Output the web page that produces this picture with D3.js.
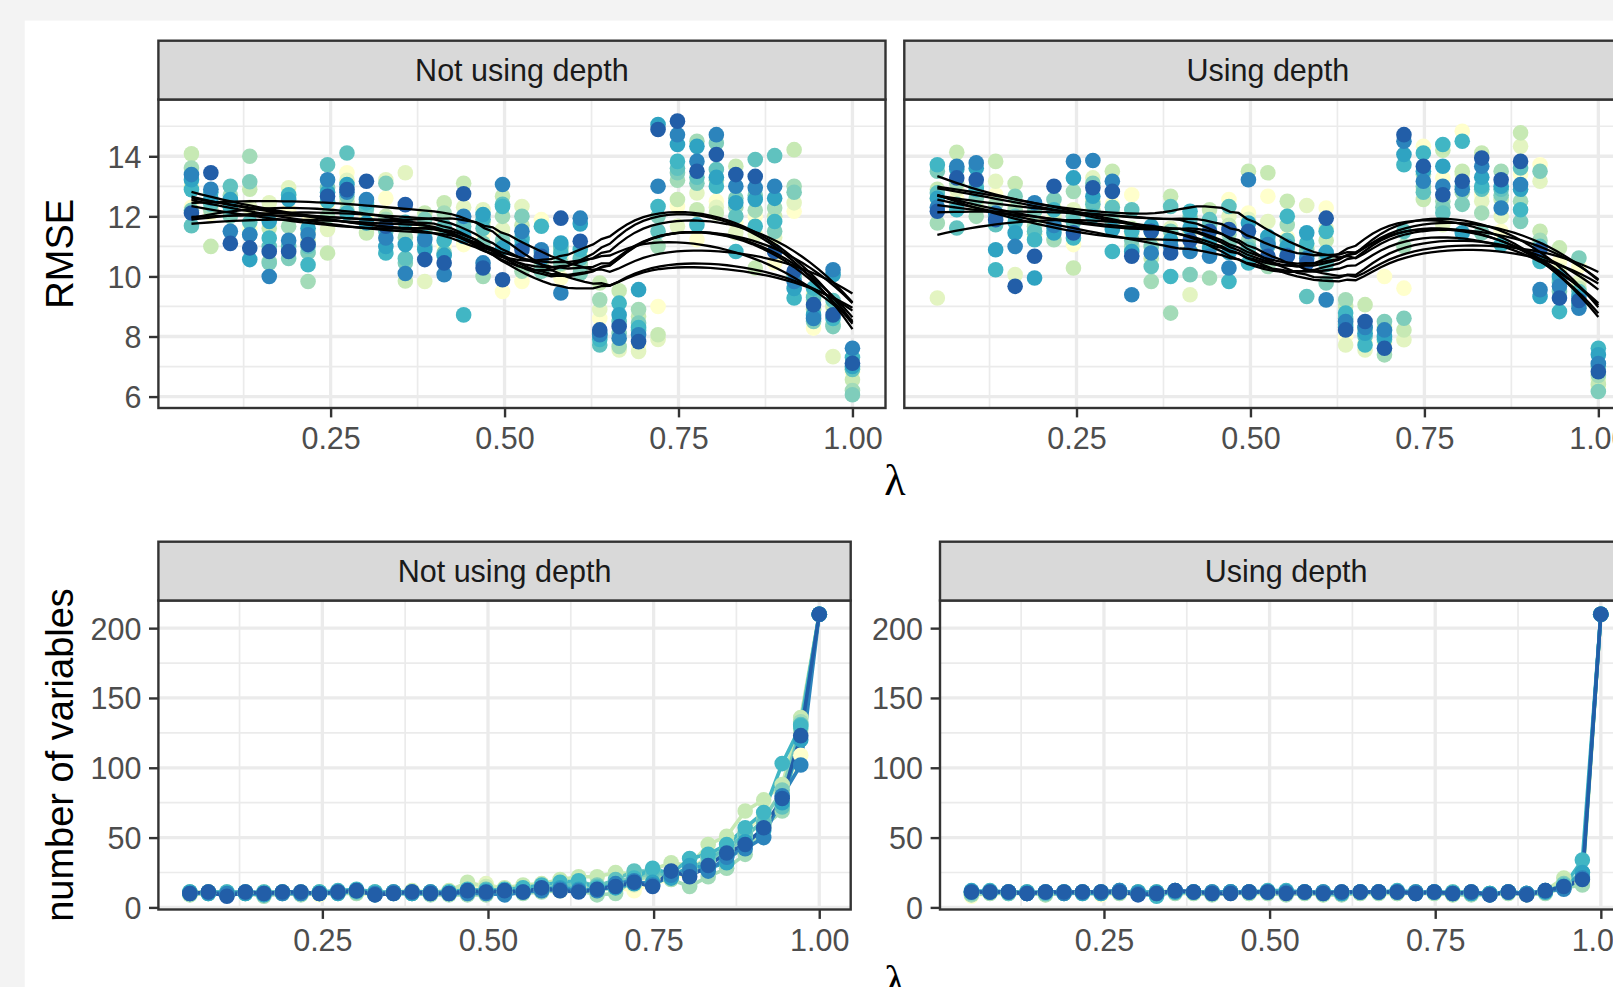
<!DOCTYPE html>
<html>
<head>
<meta charset="utf-8">
<script src="https://cdn.jsdelivr.net/npm/d3@7"></script>
<style>
  body { margin: 0; background: #f3f3f3; }
  svg { display: block; }
</style>
</head>
<body>
<svg id="chart"></svg>
<script>
// lambda grid (35 steps from 0.05 to 1)
var lambda = [0.05, 0.0779, 0.1059, 0.1338, 0.1618, 0.1897, 0.2176, 0.2456, 0.2735, 0.3015,
  0.3294, 0.3574, 0.3853, 0.4132, 0.4412, 0.4691, 0.4971, 0.525, 0.5529, 0.5809,
  0.6088, 0.6368, 0.6647, 0.6926, 0.7206, 0.7485, 0.7765, 0.8044, 0.8324, 0.8603,
  0.8882, 0.9162, 0.9441, 0.9721, 1.0];

// one row per lambda, one value per repeat (10 repeats)
var rmseNoDepth = [
  [12.3, 13.0, 14.08, 13.61, 12.2, 11.69, 12.89, 13.22, 13.39, 12.11],
  [12.1, 12.3, 11.0, 12.2, 12.5, 12.4, 12.8, 12.6, 12.9, 13.45],
  [12.2, 12.4, 12.5, 12.7, 12.0, 13.0, 12.3, 12.56, 11.5, 11.1],
  [11.6, 12.3, 12.9, 14.0, 13.15, 11.8, 11.4, 10.56, 11.39, 10.95],
  [12.0, 12.45, 11.6, 10.5, 10.45, 11.0, 11.28, 11.83, 10.0, 10.83],
  [12.2, 12.95, 12.7, 11.67, 10.6, 11.0, 12.72, 12.56, 11.2, 10.83],
  [11.8, 11.5, 11.2, 9.83, 10.8, 11.0, 10.39, 11.6, 11.39, 11.06],
  [12.4, 11.56, 10.78, 12.0, 12.95, 13.72, 12.5, 12.8, 13.22, 12.67],
  [13.45, 13.2, 12.5, 12.2, 12.67, 14.11, 12.11, 13.06, 12.8, 12.89],
  [12.0, 11.8, 11.45, 12.4, 12.22, 12.3, 12.45, 11.78, 12.56, 13.17],
  [12.6, 13.22, 12.0, 11.9, 13.1, 11.5, 10.78, 11.0, 11.28, 11.67],
  [11.6, 13.45, 9.85, 11.3, 10.45, 10.6, 11.8, 11.06, 10.1, 12.39],
  [11.7, 9.83, 12.11, 11.5, 11.9, 11.0, 11.3, 10.9, 11.22, 10.56],
  [11.0, 11.5, 12.45, 12.11, 10.78, 11.67, 11.2, 10.7, 10.06, 10.45],
  [11.06, 12.3, 13.1, 11.8, 11.5, 11.67, 8.72, 11.33, 12.0, 12.75],
  [11.39, 12.22, 11.8, 10.0, 11.1, 11.6, 11.9, 12.06, 10.45, 10.28],
  [9.5, 11.56, 12.67, 12.0, 11.2, 12.4, 12.33, 10.95, 13.06, 9.89],
  [9.83, 12.33, 11.7, 10.17, 12.0, 11.3, 11.22, 11.0, 11.5, 10.89],
  [11.89, 10.5, 10.3, 10.33, 10.17, 10.8, 11.67, 10.6, 10.89, 10.67],
  [9.95, 10.6, 10.4, 10.9, 10.45, 11.0, 10.78, 11.11, 9.45, 11.94],
  [10.72, 10.5, 10.3, 10.4, 10.11, 10.6, 10.9, 11.75, 11.94, 11.17],
  [8.6, 8.9, 9.78, 9.22, 8.0, 7.72, 7.9, 8.1, 8.06, 8.22],
  [7.9, 7.55, 9.52, 7.67, 8.1, 8.5, 9.11, 8.72, 7.94, 8.33],
  [7.7, 7.5, 8.67, 8.9, 8.45, 8.2, 8.3, 9.56, 8.06, 7.83],
  [9.0, 7.9, 8.06, 11.0, 12.0, 11.5, 12.33, 15.06, 13.0, 14.89],
  [12.33, 11.67, 12.56, 13.2, 13.45, 13.6, 13.83, 14.39, 14.72, 15.17],
  [11.22, 12.78, 12.22, 14.5, 13.1, 13.3, 11.72, 14.33, 13.83, 13.5],
  [12.5, 12.3, 12.11, 13.2, 14.44, 13.56, 13.0, 13.3, 14.72, 14.06],
  [11.8, 11.45, 13.67, 12.3, 12.6, 12.0, 10.83, 12.45, 13.0, 13.39],
  [12.0, 11.4, 10.28, 12.2, 12.7, 13.89, 11.67, 12.56, 12.95, 13.33],
  [10.45, 11.3, 12.0, 12.28, 11.5, 14.02, 11.83, 12.6, 13.0, 10.83],
  [12.17, 12.45, 14.22, 13.0, 12.8, 10.0, 9.28, 9.6, 9.83, 10.17],
  [8.28, 9.4, 9.2, 8.9, 8.5, 9.3, 9.61, 8.72, 8.6, 9.06],
  [8.9, 7.33, 9.0, 8.4, 8.33, 9.2, 8.6, 10.06, 10.22, 8.72],
  [6.8, 6.9, 6.56, 6.2, 6.06, 6.9, 7.3, 7.0, 7.61, 7.11]
];

var rmseDepth = [
  [12.56, 9.28, 12.9, 11.78, 13.5, 12.78, 13.72, 12.6, 12.3, 12.17],
  [12.6, 12.9, 14.13, 13.1, 12.4, 11.61, 12.22, 13.56, 13.67, 13.28],
  [12.8, 12.5, 12.3, 12.0, 12.6, 13.0, 12.89, 13.6, 13.78, 13.22],
  [12.72, 13.17, 13.83, 12.4, 12.0, 11.72, 10.22, 10.89, 12.11, 11.89],
  [12.3, 10.06, 13.09, 12.22, 12.67, 12.0, 11.8, 11.45, 11.0, 9.67],
  [12.0, 11.8, 11.4, 11.67, 12.17, 11.5, 11.22, 9.95, 12.45, 10.67],
  [12.3, 12.0, 11.8, 11.22, 12.56, 11.6, 12.22, 11.45, 11.7, 13.0],
  [11.06, 12.22, 10.28, 12.83, 12.0, 11.8, 11.28, 13.28, 13.83, 11.45],
  [12.28, 13.28, 12.5, 12.2, 13.1, 12.4, 12.0, 12.67, 13.86, 12.95],
  [12.4, 12.0, 13.5, 12.11, 11.8, 12.3, 10.83, 11.56, 13.17, 12.83],
  [12.72, 11.39, 11.6, 11.0, 11.2, 12.22, 11.5, 10.83, 9.39, 10.67],
  [11.2, 11.0, 10.6, 9.83, 11.0, 10.33, 11.5, 11.67, 10.78, 11.5],
  [11.3, 11.6, 12.67, 8.78, 11.5, 12.33, 10.0, 11.2, 11.0, 10.78],
  [10.9, 9.39, 11.5, 12.0, 10.06, 11.9, 12.17, 11.61, 10.83, 11.2],
  [11.33, 11.0, 12.22, 9.95, 11.7, 11.89, 11.2, 10.95, 10.67, 11.5],
  [12.56, 12.0, 11.7, 11.4, 11.1, 12.33, 9.83, 10.8, 10.28, 11.56],
  [12.11, 11.9, 13.5, 11.2, 11.0, 10.9, 10.45, 11.78, 13.22, 11.5],
  [12.67, 11.83, 13.45, 10.33, 11.2, 11.0, 11.1, 11.33, 11.06, 10.67],
  [11.3, 11.0, 12.5, 11.72, 10.9, 11.2, 12.0, 11.0, 10.7, 10.67],
  [11.0, 12.36, 10.7, 10.9, 10.8, 9.33, 11.1, 11.45, 10.6, 10.45],
  [12.28, 11.6, 11.2, 10.6, 9.78, 10.4, 11.5, 10.8, 9.22, 11.94],
  [8.0, 7.72, 9.0, 9.22, 8.4, 8.6, 8.78, 8.3, 8.5, 8.22],
  [7.8, 7.55, 9.06, 8.2, 8.3, 8.0, 7.72, 8.11, 8.3, 8.5],
  [10.0, 7.8, 8.3, 7.39, 8.5, 8.2, 7.9, 8.0, 8.22, 7.61],
  [9.61, 7.89, 8.22, 11.0, 8.61, 11.5, 13.72, 14.06, 14.5, 14.72],
  [14.33, 12.9, 12.56, 13.4, 13.0, 12.8, 14.11, 13.5, 13.17, 13.67],
  [13.28, 11.72, 14.2, 12.5, 12.3, 12.11, 14.39, 13.67, 13.0, 12.72],
  [14.83, 13.39, 13.5, 12.8, 12.4, 13.0, 14.5, 11.45, 12.9, 13.17],
  [12.72, 12.5, 14.11, 12.11, 11.45, 12.9, 13.0, 13.3, 13.67, 13.94],
  [11.5, 12.0, 12.56, 13.5, 12.7, 12.9, 11.06, 13.0, 12.28, 13.22],
  [13.4, 14.33, 14.78, 12.5, 11.83, 13.61, 12.22, 12.9, 13.06, 13.83],
  [13.72, 13.17, 11.5, 11.2, 13.5, 11.0, 10.5, 9.33, 9.56, 10.89],
  [10.5, 10.2, 10.95, 9.9, 9.5, 9.8, 8.83, 10.0, 9.67, 9.28],
  [10.33, 9.8, 9.6, 9.0, 10.61, 9.5, 9.1, 9.33, 8.94, 9.2],
  [6.3, 6.56, 6.4, 6.7, 6.17, 7.0, 7.61, 7.39, 7.1, 6.83]
];

var nvarNoDepth = [
  [9, 10, 11, 9, 10, 11, 10, 11, 10, 10],
  [11, 10, 11, 10, 11, 10, 11, 10, 11, 11],
  [9, 10, 10, 9, 11, 10, 11, 9, 10, 8],
  [10, 11, 10, 10, 11, 10, 11, 10, 11, 11],
  [9, 10, 11, 8, 10, 10, 11, 9, 10, 10],
  [11, 10, 11, 10, 11, 10, 11, 11, 10, 11],
  [10, 11, 10, 9, 11, 10, 10, 11, 10, 11],
  [9, 10, 11, 10, 10, 11, 11, 10, 10, 10],
  [11, 10, 11, 10, 11, 11, 12, 10, 11, 11],
  [10, 11, 12, 10, 12, 11, 13, 12, 12, 12],
  [9, 10, 11, 10, 10, 11, 11, 9, 10, 9],
  [10, 11, 11, 10, 11, 10, 11, 10, 11, 10],
  [10, 11, 12, 10, 11, 10, 11, 10, 11, 11],
  [10, 11, 11, 9, 11, 10, 11, 10, 11, 10],
  [10, 11, 12, 9, 10, 11, 11, 10, 10, 10],
  [12, 14, 18, 9, 12, 11, 13, 12, 10, 12],
  [16, 17, 15, 9, 12, 13, 12, 11, 10, 11],
  [11, 13, 14, 10, 12, 11, 13, 12, 9, 12],
  [12, 14, 16, 10, 12, 13, 14, 11, 11, 11],
  [12, 14, 17, 11, 13, 14, 16, 13, 12, 14],
  [12, 15, 20, 12, 16, 14, 18, 14, 13, 12],
  [14, 16, 22, 12, 18, 17, 19, 13, 12, 11],
  [12, 14, 22, 9, 16, 15, 14, 13, 12, 13],
  [14, 17, 25, 10, 18, 20, 16, 14, 17, 15],
  [12, 16, 24, 20, 22, 26, 21, 17, 19, 18],
  [17, 20, 27, 22, 24, 26, 28, 18, 16, 15],
  [20, 24, 32, 20, 23, 22, 24, 21, 23, 26],
  [25, 28, 30, 15, 26, 27, 35, 30, 26, 22],
  [33, 36, 45, 22, 32, 35, 38, 28, 26, 30],
  [42, 46, 51, 28, 40, 42, 45, 32, 36, 39],
  [52, 55, 69, 38, 50, 53, 57, 47, 42, 45],
  [60, 66, 77, 58, 63, 60, 68, 55, 50, 57],
  [76, 82, 88, 69, 84, 72, 103, 75, 80, 78],
  [109, 125, 136, 133, 128, 131, 130, 120, 102, 123],
  [210, 210, 210, 210, 210, 210, 210, 210, 210, 210]
];

var nvarDepth = [
  [8, 9, 10, 9, 10, 11, 11, 12, 11, 11],
  [10, 11, 11, 10, 11, 11, 12, 11, 11, 11],
  [10, 11, 11, 10, 11, 10, 11, 11, 11, 11],
  [10, 10, 11, 10, 10, 11, 10, 11, 10, 10],
  [9, 10, 10, 9, 11, 10, 11, 11, 11, 11],
  [10, 11, 11, 10, 11, 10, 11, 11, 10, 11],
  [11, 10, 11, 10, 11, 11, 11, 10, 11, 11],
  [9, 10, 11, 10, 11, 11, 11, 10, 11, 11],
  [10, 11, 11, 10, 12, 11, 12, 11, 12, 11],
  [10, 11, 11, 10, 10, 11, 10, 11, 10, 9],
  [10, 10, 11, 10, 11, 9, 8, 11, 10, 10],
  [11, 11, 12, 10, 11, 11, 12, 11, 12, 12],
  [10, 11, 11, 10, 11, 11, 11, 11, 11, 11],
  [10, 10, 11, 9, 11, 10, 11, 10, 11, 10],
  [10, 11, 11, 10, 11, 11, 11, 11, 11, 10],
  [10, 10, 11, 10, 11, 11, 11, 11, 11, 11],
  [10, 11, 11, 10, 11, 11, 12, 11, 11, 11],
  [10, 10, 11, 9, 11, 11, 12, 11, 11, 10],
  [10, 11, 11, 10, 11, 11, 11, 11, 11, 11],
  [9, 10, 11, 9, 11, 10, 11, 10, 11, 10],
  [10, 10, 11, 9, 10, 10, 11, 10, 11, 11],
  [10, 11, 11, 10, 11, 11, 11, 11, 11, 11],
  [10, 11, 11, 10, 11, 11, 11, 11, 11, 11],
  [10, 10, 11, 10, 11, 11, 12, 11, 11, 11],
  [10, 11, 11, 10, 11, 10, 11, 10, 11, 10],
  [10, 11, 11, 10, 11, 11, 11, 11, 11, 11],
  [9, 10, 11, 9, 10, 10, 11, 10, 10, 10],
  [10, 10, 11, 9, 11, 10, 11, 10, 11, 11],
  [10, 10, 10, 9, 10, 9, 10, 10, 9, 9],
  [10, 11, 11, 10, 11, 11, 11, 11, 11, 11],
  [9, 9, 10, 9, 10, 10, 10, 10, 10, 9],
  [11, 11, 12, 10, 11, 11, 12, 11, 12, 12],
  [16, 18, 21, 14, 17, 16, 15, 14, 13, 15],
  [18, 20, 17, 16, 22, 25, 34, 25, 21, 20],
  [210, 210, 210, 210, 210, 210, 210, 210, 210, 210]
];

var panelLabels = ['Not using depth', 'Using depth'];
var lambdaTicks = [0.25, 0.5, 0.75, 1.0];
var lambdaMinor = [0.125, 0.375, 0.625, 0.875];
var rmseTicks = [6, 8, 10, 12, 14];
var rmseMinor = [7, 9, 11, 13, 15];
var nvarTicks = [0, 50, 100, 150, 200];
var nvarMinor = [25, 75, 125, 175];

// scale limits as drawn in the original
var lambdaDomain = [0.0025, 1.0475];
var rmseDomain = [5.62, 15.89];
var nvarDomain = [-1.5, 219.8];

var repeatColors = ['#ffffcc', '#e3f4c1', '#c7e9b4', '#a3dbb8', '#7fcdbb',
                    '#60c2bf', '#41b6c4', '#2fa3c2', '#2c84bc', '#225ea8'];

var width = 1613;
var height = 987;
var sans = "'Liberation Sans', Arial, Helvetica, sans-serif";
var clipCount = 0;

var svg = d3.select('#chart')
    .attr('width', width)
    .attr('height', height);

svg.append('rect')
    .attr('width', width).attr('height', height)
    .attr('fill', '#f3f3f3');

svg.append('rect')
    .attr('x', 24.7).attr('y', 20.6)
    .attr('width', width).attr('height', height)
    .attr('fill', '#ffffff');

// rows (per lambda) -> one array per repeat
function bySeries(rows) {
    return d3.range(rows[0].length).map(k => rows.map((r, i) => ({x: lambda[i], y: r[k]})));
}

// local quadratic loess, tricube weights (span 0.75)
function loess(pts, span, nOut) {
    var xs = pts.map(p => p.x), ys = pts.map(p => p.y);
    var n = xs.length, q = Math.floor(n * span);
    var lo = d3.min(xs), hi = d3.max(xs);
    return d3.range(nOut).map(function(j) {
        var x0 = lo + (hi - lo) * j / (nOut - 1);
        var d = xs.map(x => Math.abs(x - x0));
        var h = d.slice().sort((a, b) => a - b)[q - 1] * 1.0001;
        var S = [[0, 0, 0], [0, 0, 0], [0, 0, 0]], b = [0, 0, 0];
        xs.forEach(function(x, i) {
            var u = d[i] / h;
            if (u >= 1) return;
            var w = Math.pow(1 - u * u * u, 3);
            var t = x - x0, p = [1, t, t * t];
            for (var r = 0; r < 3; r++) {
                b[r] += w * p[r] * ys[i];
                for (var c = 0; c < 3; c++) S[r][c] += w * p[r] * p[c];
            }
        });
        return {x: x0, y: solve3(S, b)[0]};
    });
}

function solve3(A, b) {
    var M = A.map((r, i) => r.concat([b[i]]));
    for (var i = 0; i < 3; i++) {
        var piv = i;
        for (var r = i + 1; r < 3; r++) if (Math.abs(M[r][i]) > Math.abs(M[piv][i])) piv = r;
        var tmp = M[i]; M[i] = M[piv]; M[piv] = tmp;
        for (var r2 = 0; r2 < 3; r2++) {
            if (r2 === i) continue;
            var f = M[r2][i] / M[i][i];
            for (var c = i; c < 4; c++) M[r2][c] -= f * M[i][c];
        }
    }
    return M.map((r, i) => r[3] / r[i]);
}

function drawPanel(cfg) {
    var x = d3.scaleLinear().domain(lambdaDomain).range([cfg.x0, cfg.x1]);
    var y = d3.scaleLinear().domain(cfg.yDomain).range([cfg.bottom, cfg.top]);
    var g = svg.append('g');

    var id = 'clip' + (clipCount++);
    svg.append('clipPath').attr('id', id)
        .append('rect')
        .attr('x', cfg.x0).attr('y', cfg.top)
        .attr('width', cfg.x1 - cfg.x0).attr('height', cfg.bottom - cfg.top);

    var body = g.append('g').attr('clip-path', 'url(#' + id + ')');

    // grid
    body.selectAll('.vminor').data(lambdaMinor).enter().append('line')
        .attr('x1', d => x(d)).attr('x2', d => x(d))
        .attr('y1', cfg.top).attr('y2', cfg.bottom)
        .attr('stroke', '#ebebeb').attr('stroke-width', 1.7);
    body.selectAll('.hminor').data(cfg.yMinor).enter().append('line')
        .attr('x1', cfg.x0).attr('x2', cfg.x1)
        .attr('y1', d => y(d)).attr('y2', d => y(d))
        .attr('stroke', '#ebebeb').attr('stroke-width', 1.7);
    body.selectAll('.vmajor').data(lambdaTicks).enter().append('line')
        .attr('x1', d => x(d)).attr('x2', d => x(d))
        .attr('y1', cfg.top).attr('y2', cfg.bottom)
        .attr('stroke', '#ebebeb').attr('stroke-width', 3.3);
    body.selectAll('.hmajor').data(cfg.yTicks).enter().append('line')
        .attr('x1', cfg.x0).attr('x2', cfg.x1)
        .attr('y1', d => y(d)).attr('y2', d => y(d))
        .attr('stroke', '#ebebeb').attr('stroke-width', 3.3);

    var series = bySeries(cfg.rows);

    if (cfg.kind === 'line') {
        var line = d3.line().x(d => x(d.x)).y(d => y(d.y));
        series.forEach(function(s, k) {
            body.append('path').attr('d', line(s))
                .attr('fill', 'none')
                .attr('stroke', repeatColors[k])
                .attr('stroke-width', 3.6)
                .attr('stroke-linejoin', 'round');
        });
    }

    series.forEach(function(s, k) {
        body.selectAll(null).data(s).enter().append('circle')
            .attr('cx', d => x(d.x))
            .attr('cy', d => y(d.y))
            .attr('r', 7.8)
            .attr('fill', repeatColors[k]);
    });

    if (cfg.kind === 'smooth') {
        var sline = d3.line().x(d => x(d.x)).y(d => y(d.y));
        series.forEach(function(s) {
            body.append('path').attr('d', sline(loess(s, 0.75, 80)))
                .attr('fill', 'none')
                .attr('stroke', '#000')
                .attr('stroke-width', 2.3);
        });
    }

    // panel border
    g.append('rect')
        .attr('x', cfg.x0).attr('y', cfg.top)
        .attr('width', cfg.x1 - cfg.x0).attr('height', cfg.bottom - cfg.top)
        .attr('fill', 'none').attr('stroke', '#333333').attr('stroke-width', 2.4);

    // strip
    g.append('rect')
        .attr('x', cfg.x0).attr('y', cfg.stripTop)
        .attr('width', cfg.x1 - cfg.x0).attr('height', cfg.top - cfg.stripTop)
        .attr('fill', '#d9d9d9').attr('stroke', '#333333').attr('stroke-width', 2.4);
    g.append('text')
        .text(cfg.label)
        .attr('x', (cfg.x0 + cfg.x1) / 2)
        .attr('y', (cfg.stripTop + cfg.top) / 2)
        .attr('dy', '0.36em')
        .attr('text-anchor', 'middle')
        .attr('fill', '#1a1a1a')
        .style('font-family', sans)
        .style('font-size', '30.5px');

    // x axis
    var xAxis = g.append('g')
        .attr('transform', 'translate(0,' + cfg.bottom + ')')
        .call(d3.axisBottom(x).tickValues(lambdaTicks).tickFormat(d3.format('.2f')).tickSize(9.4));
    xAxis.select('.domain').remove();
    xAxis.selectAll('line').attr('stroke', '#333333').attr('stroke-width', 2.4);
    xAxis.selectAll('text')
        .attr('y', 41).attr('dy', null)
        .attr('fill', '#4d4d4d')
        .style('font-family', sans)
        .style('font-size', '30.5px');

    // y axis only where the facet shows one
    if (cfg.yAxis) {
        var yAxis = g.append('g')
            .attr('transform', 'translate(' + cfg.x0 + ',0)')
            .call(d3.axisLeft(y).tickValues(cfg.yTicks).tickSize(9.4).tickPadding(7.6));
        yAxis.select('.domain').remove();
        yAxis.selectAll('line').attr('stroke', '#333333').attr('stroke-width', 2.4);
        yAxis.selectAll('text')
            .attr('dy', '0.36em')
            .attr('fill', '#4d4d4d')
            .style('font-family', sans)
            .style('font-size', '30.5px');
    }
}

// top row: RMSE with loess smooths
var topPanels = [
    {x0: 158.4, x1: 885.5, label: panelLabels[0], rows: rmseNoDepth, yAxis: true},
    {x0: 904.3, x1: 1631.4, label: panelLabels[1], rows: rmseDepth, yAxis: false}
];
topPanels.forEach(function(p) {
    drawPanel(Object.assign({
        stripTop: 40.7, top: 99.5, bottom: 408,
        yDomain: rmseDomain, yTicks: rmseTicks, yMinor: rmseMinor, kind: 'smooth'
    }, p));
});

// bottom row: number of variables
var bottomPanels = [
    {x0: 158.4, x1: 850.7, label: panelLabels[0], rows: nvarNoDepth},
    {x0: 940, x1: 1632.3, label: panelLabels[1], rows: nvarDepth}
];
bottomPanels.forEach(function(p) {
    drawPanel(Object.assign({
        stripTop: 541.7, top: 600.5, bottom: 909.5,
        yDomain: nvarDomain, yTicks: nvarTicks, yMinor: nvarMinor, kind: 'line', yAxis: true
    }, p));
});

// axis titles
svg.append('text')
    .text('RMSE')
    .attr('transform', 'translate(73,' + ((99.5 + 408) / 2) + ') rotate(-90)')
    .attr('text-anchor', 'middle')
    .attr('fill', '#000')
    .style('font-family', sans)
    .style('font-size', '38px');

svg.append('text')
    .text('number of variables')
    .attr('transform', 'translate(73,' + ((600.5 + 909.5) / 2) + ') rotate(-90)')
    .attr('text-anchor', 'middle')
    .attr('fill', '#000')
    .style('font-family', sans)
    .style('font-size', '38px');

[495, 996].forEach(function(yy) {
    svg.append('text')
        .text('λ')
        .attr('x', 895)
        .attr('y', yy)
        .attr('text-anchor', 'middle')
        .attr('fill', '#000')
        .style('font-family', "'Liberation Serif', 'DejaVu Serif', serif")
        .style('font-size', '44px');
});
</script>
</body>
</html>
